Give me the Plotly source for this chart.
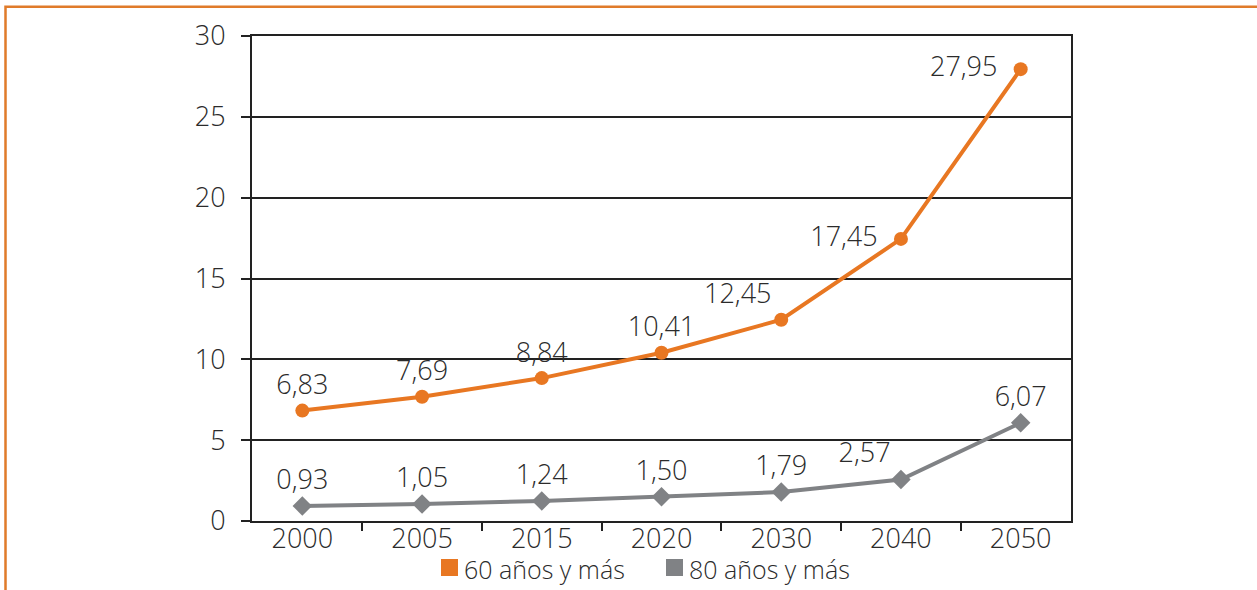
import plotly.graph_objects as go

years = ["2000", "2005", "2015", "2020", "2030", "2040", "2050"]
sixty_plus = [6.83, 7.69, 8.84, 10.41, 12.45, 17.45, 27.95]
eighty_plus = [0.93, 1.05, 1.24, 1.50, 1.79, 2.57, 6.07]
series_names = ["60 años y más", "80 años y más"]
y_ticks = [0, 5, 10, 15, 20, 25, 30]

ORANGE = "#E87722"
GRAY = "#808285"
TXT = "#2b2b2b"
FONT = "Open Sans"
FS = 27

def fmt(v):
    return f"{v:.2f}".replace(".", ",")

pos60 = ["top center"] * 4 + ["top left", "middle left", "middle left"]
pos80 = ["top center"] * 5 + ["top left", "top center"]
text60 = [fmt(v) + ("\u2002" if p == "middle left" else "") for v, p in zip(sixty_plus, pos60)]
text80 = [fmt(v) for v in eighty_plus]

fig = go.Figure()
fig.add_trace(go.Scatter(
    x=years, y=sixty_plus, mode="lines+markers+text", name=series_names[0],
    text=text60, textposition=pos60,
    textfont=dict(size=FS, color=TXT, family=FONT, weight=300),
    line=dict(color=ORANGE, width=4),
    marker=dict(symbol="circle", size=14, color=ORANGE),
    showlegend=False, cliponaxis=False,
))
fig.add_trace(go.Scatter(
    x=years, y=eighty_plus, mode="lines+markers+text", name=series_names[1],
    text=text80, textposition=pos80,
    textfont=dict(size=FS, color=TXT, family=FONT, weight=300),
    line=dict(color=GRAY, width=4),
    marker=dict(symbol="diamond", size=15, color=GRAY),
    showlegend=False, cliponaxis=False,
))

L, R, T, B = 252, 1071, 36, 521
W, H = 1257, 590

def px_x(px):
    return (px - L) / (R - L)

def px_y(py):
    return (B - py) / (B - T)

# outer orange frame
fig.add_shape(type="rect", xref="paper", yref="paper",
              x0=px_x(5.5), x1=px_x(1400), y0=px_y(700), y1=px_y(6.7),
              line=dict(color="#E07B2A", width=2.5), fillcolor="rgba(0,0,0,0)",
              layer="below")

# legend drawn below the axis (swatch + label)
legend_x = [441, 666]
for name, col, lx in zip(series_names, [ORANGE, GRAY], legend_x):
    fig.add_shape(type="rect", xref="paper", yref="paper",
                  x0=px_x(lx), x1=px_x(lx + 17), y0=px_y(576), y1=px_y(559),
                  line=dict(width=0), fillcolor=col)
    fig.add_annotation(xref="paper", yref="paper", x=px_x(lx + 21), y=px_y(569),
                       xanchor="left", yanchor="middle", showarrow=False,
                       text=name, font=dict(size=25, color=TXT, family=FONT, weight=300))

fig.update_layout(
    width=W, height=H,
    margin=dict(l=L, r=W - R, t=T, b=H - B),
    paper_bgcolor="white", plot_bgcolor="white",
    showlegend=False,
    font=dict(family=FONT, color=TXT, size=FS, weight=300),
    xaxis=dict(type="category", tickson="boundaries", ticks="outside",
               ticklen=8, tickwidth=2, tickcolor="#222",
               showline=True, linecolor="#222", linewidth=2, mirror=True,
               showgrid=False, automargin=False, ticklabelstandoff=-7,
               tickfont=dict(size=FS, color=TXT, family=FONT, weight=300)),
    yaxis=dict(range=[0, 30], tickvals=y_ticks, ticks="outside",
               ticklen=9, tickwidth=2, tickcolor="#222",
               showline=True, linecolor="#222", linewidth=2, mirror=True,
               showgrid=True, gridcolor="#222", gridwidth=2, zeroline=False,
               ticklabelstandoff=10, automargin=False,
               tickfont=dict(size=FS, color=TXT, family=FONT, weight=300)),
)

fig.write_html(
    "out.html",
    config={"displayModeBar": False},
    post_script="document.body.style.margin='0';document.body.style.overflow='hidden';",
)
